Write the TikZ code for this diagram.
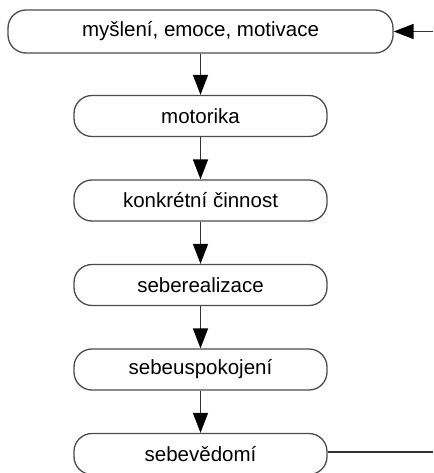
\documentclass[tikz,border=0pt]{standalone}
\usepackage{fontspec}
\setmainfont{Liberation Sans}
\usetikzlibrary{arrows.meta}
\usetikzlibrary{positioning}

\tikzset{
  box/.style={draw=black!70, line width=1.3pt, rounded corners=18pt,
    minimum width=253pt, minimum height=41pt, inner sep=0pt,
    font=\fontsize{20.5}{24}\selectfont},
  flow/.style={draw=black!80, line width=1.5pt,
    -{Triangle[length=20pt,width=15pt,color=black]}}
}

\begin{document}
\begin{tikzpicture}[x=1pt,y=-1pt]
\useasboundingbox (0,0) rectangle (433,473);
\coordinate (a) at (200.5,31.5);
\coordinate (b) at (200.5,116);
\coordinate (c) at (200.5,200.5);
\coordinate (d) at (200.5,285);
\coordinate (e) at (200.5,369.5);
\coordinate (f) at (200.5,454);
\coordinate (inR) at (433,31.5);
\coordinate (outR) at (433,452);
\begin{scope}
% draws boxes
\node[box, minimum width=385pt, minimum height=43pt] (mysleni) at (a) {myšlení, emoce, motivace};
\node[box] (motorika) at (b) {motorika};
\node[box] (cinnost) at (c) {konkrétní činnost};
\node[box] (realizace) at (d) {seberealizace};
\node[box] (uspokojeni) at (e) {sebeuspokojení};
\node[box] (vedomi) at (f) {sebevědomí};
% draws arrows
\draw[flow] (mysleni) to (motorika);
\draw[flow] (motorika) to (cinnost);
\draw[flow] (cinnost) to (realizace);
\draw[flow] (realizace) to (uspokojeni);
\draw[flow] (uspokojeni) to (vedomi);
\draw[flow] (inR) to (mysleni.east);
\draw[draw=black!80, line width=1.5pt] (vedomi.east |- outR) to (outR);
\end{scope}
\end{tikzpicture}
\end{document}
